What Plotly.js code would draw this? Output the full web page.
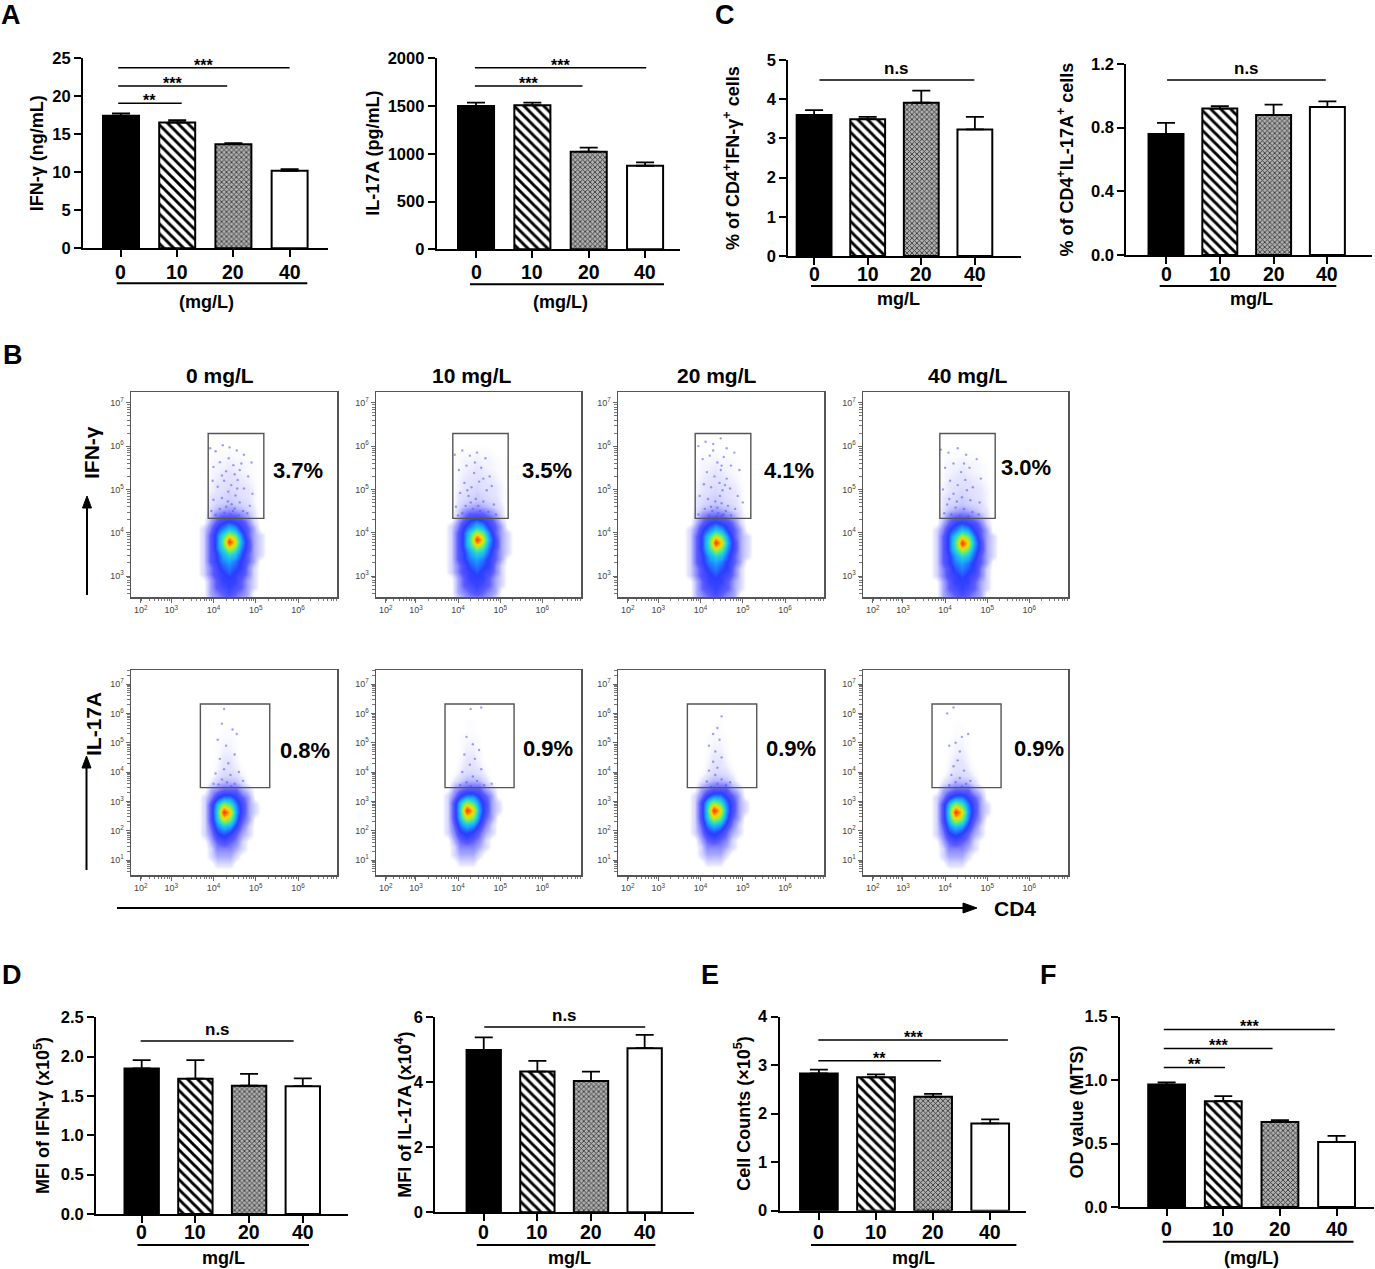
<!DOCTYPE html>
<html><head><meta charset="utf-8">
<script src="https://cdn.plot.ly/plotly-3.0.1.min.js"></script>
<style>html,body{margin:0;padding:0;background:#fff;}#chart{width:1375px;height:1269px;}</style>
</head><body><div id="chart"></div>
<script>
// ================= DATA =================
const doses = ['0','10','20','40'];
const ifngELISA = [17.45, 16.55, 13.7, 10.2];
const ifngELISAsem = [0.3, 0.3, 0.15, 0.2];
const il17ELISA = [1500, 1508, 1022, 875];
const il17ELISAsem = [35, 27, 42, 36];
const pctIFNG = [3.60, 3.49, 3.91, 3.23];
const pctIFNGsem = [0.12, 0.06, 0.31, 0.32];
const pctIL17 = [0.76, 0.92, 0.88, 0.93];
const pctIL17sem = [0.07, 0.015, 0.065, 0.035];
const mfiIFNG = [1.85, 1.72, 1.63, 1.625];
const mfiIFNGsem = [0.105, 0.235, 0.15, 0.10];
const mfiIL17 = [4.99, 4.33, 4.04, 5.05];
const mfiIL17sem = [0.39, 0.33, 0.29, 0.41];
const cellCounts = [2.83, 2.75, 2.35, 1.80];
const cellCountsSem = [0.08, 0.06, 0.06, 0.085];
const odMTS = [0.965, 0.834, 0.67, 0.513];
const odMTSsem = [0.018, 0.04, 0.015, 0.047];

// flow cytometry (log10 display units)
const flowTitles = ['0 mg/L','10 mg/L','20 mg/L','40 mg/L'];
const ifngGatePct = ['3.7%','3.5%','4.1%','3.0%'];
const il17GatePct = ['0.8%','0.9%','0.9%','0.9%'];
const cd4TickLabels = ['10<sup>2</sup>','10<sup>3</sup>','10<sup>4</sup>','10<sup>5</sup>','10<sup>6</sup>'];
const cd4TickVals = [2.28, 3, 4, 5, 6];
const ifngTickVals = [3,4,5,6,7];
const il17TickVals = [1,2,3,4,5,6,7];
const ifngGate = {x:[3.875,5.19], y:[4.33,6.29]};
const il17Gate = {x:[3.69,5.33], y:[3.47,6.32]};
// density peak (CD4, cytokine) per panel
const ifngCenters = [[4.36,3.79],[4.43,3.84],[4.35,3.77],[4.39,3.76]];
const il17Centers = [[4.24,2.64],[4.20,2.70],[4.31,2.70],[4.24,2.64]];
// density read from the IFN-γ row (rows: offset -1.35..+2.25 step .15; cols: offset -0.75..0.9 step .15)
const ifngDensity = [
 [0,0,0.5,1,1.5,1.5,1.5,1,0.5,0,0,0],
 [0,0,1,1.5,2,2.5,2,1.5,1,0,0,0],
 [0,0,1,2,2.5,3,2.5,2,1,0.5,0,0],
 [0,0,1,2,3,3,3,2,1,0.5,0,0],
 [0,0.5,1.5,2.5,3,3.5,3,2.5,1.5,0.5,0,0],
 [0,0.5,1.5,2.5,3.5,4,3.5,3,1.5,0.5,0,0],
 [0,0.5,2,3,4,4.5,4,3,2,1,0,0],
 [0,0.5,2,3,4.5,5.5,5,3.5,2,1,0.5,0],
 [0,0.5,2,3.5,5.5,7.5,6.5,4,2.5,1,0.5,0],
 [0,0.5,2,3.5,6,10,8,4.5,2.5,1,0.5,0],
 [0,0.5,2,3.5,5.5,7.5,6.5,4,2,1,0.5,0],
 [0,0.5,1.5,3,4,5,4.5,3,2,1,0,0],
 [0,0,1,2,3,3.5,3,2.5,1.5,0.5,0,0],
 [0,0,0.6,1.5,2,2,2,1.5,1,0.4,0,0],
 [0,0,0.4,0.8,1,1.2,1,0.8,0.5,0.3,0,0],
 [0,0,0.3,0.5,0.6,0.7,0.6,0.5,0.4,0.2,0,0],
 [0,0,0.3,0.4,0.5,0.6,0.5,0.4,0.3,0.2,0,0],
 [0,0,0.2,0.3,0.4,0.5,0.4,0.35,0.3,0.2,0,0],
 [0,0,0.2,0.3,0.35,0.4,0.4,0.3,0.25,0.15,0,0],
 [0,0,0.15,0.25,0.3,0.35,0.3,0.25,0.2,0.1,0,0],
 [0,0,0.15,0.2,0.25,0.3,0.25,0.2,0.15,0.1,0,0],
 [0,0,0.1,0.2,0.2,0.25,0.2,0.2,0.15,0.1,0,0],
 [0,0,0.1,0.15,0.15,0.2,0.15,0.15,0.1,0,0,0],
 [0,0,0,0.1,0.1,0.1,0.1,0.1,0,0,0,0],
 [0,0,0,0,0,0,0,0,0,0,0,0]
];
// density read from the IL-17A row (rows: offset -2.0..+3.25 step .25; cols: offset -0.6..0.9 step .15)
const il17Density = [
 [0,0,0,0,0,0,0,0,0,0,0],
 [0,0,0,0.5,0.5,0.5,0,0,0,0,0],
 [0,0,0.5,1,1,1,0.5,0,0,0,0],
 [0,0,0.5,1.5,1.5,1.5,1,0.5,0,0,0],
 [0,0,1,2,2.5,2,1.5,0.5,0,0,0],
 [0,0.5,1.5,3,3.5,3,2,1,0.5,0,0],
 [0,0.5,2,4,5,4.5,3,1.5,0.5,0,0],
 [0,0.5,2.5,5,7.5,6.5,4,2,1,0,0],
 [0,0.5,2.5,5.5,10,8,4.5,2.5,1,0.5,0],
 [0,0.5,2.5,5,7,6,4,2.5,1,0.5,0],
 [0,0.5,1.5,3,4,4,3,2,1,0,0],
 [0,0,1,1.5,2,2,2,1,0.5,0,0],
 [0,0,0.3,0.6,0.9,0.9,0.8,0.4,0,0,0],
 [0,0,0.1,0.3,0.5,0.5,0.4,0.2,0,0,0],
 [0,0,0,0.2,0.35,0.35,0.25,0.1,0,0,0],
 [0,0,0,0.15,0.3,0.3,0.2,0,0,0,0],
 [0,0,0,0.1,0.25,0.25,0.15,0,0,0,0],
 [0,0,0,0.1,0.2,0.2,0.1,0,0,0,0],
 [0,0,0,0.1,0.15,0.15,0.1,0,0,0,0],
 [0,0,0,0,0.1,0.1,0,0,0,0,0],
 [0,0,0,0,0.1,0.1,0,0,0,0,0],
 [0,0,0,0,0,0,0,0,0,0,0]
];
// sparse events read from the gates
const ifngEvents = [
 [[3.92,5.95],[4.05,5.88],[4.22,6.02],[4.38,5.97],[4.55,5.9],[4.72,5.8],[4.9,5.62],[4.0,5.52],[4.15,5.63],[4.3,5.42],[4.47,5.56],[4.62,5.45],[4.82,5.3],[4.25,5.2],[4.42,5.1],[4.57,5.22],[4.1,5.06],[4.72,5.02],[4.35,4.95],[4.52,4.86],[4.2,4.8],[4.0,4.76],[4.62,4.7],[4.43,4.66],[4.3,4.6],[4.86,4.62],[4.15,4.55],[4.5,4.56],[4.7,4.5],[3.95,4.5],[4.26,4.46],[4.4,4.42],[4.6,4.4],[4.05,4.41],[4.8,4.45],[4.36,5.72],[4.56,5.02],[4.46,4.5],[4.2,5.32],[4.66,5.6],[3.98,5.2],[4.92,4.9],[4.34,4.72],[4.5,5.35]],
 [[3.92,5.8],[4.1,5.9],[4.28,5.78],[4.45,5.85],[4.65,5.72],[4.02,5.45],[4.2,5.55],[4.38,5.38],[4.55,5.5],[4.75,5.3],[4.15,5.15],[4.32,5.05],[4.5,5.18],[4.68,4.98],[4.05,4.92],[4.25,4.85],[4.42,4.78],[4.6,4.72],[4.85,4.65],[3.95,4.6],[4.18,4.62],[4.35,4.55],[4.52,4.5],[4.72,4.48],[4.1,4.45],[4.28,4.42],[4.45,4.4],[4.62,4.38],[4.0,4.4],[4.9,4.42],[4.4,5.62],[4.6,5.25],[4.22,4.98],[4.48,4.62],[4.8,5.08],[4.3,4.7]],
 [[3.95,6.0],[4.12,6.1],[4.3,6.05],[4.48,6.18],[4.62,5.95],[4.8,5.85],[4.05,5.7],[4.22,5.78],[4.4,5.62],[4.55,5.75],[4.72,5.55],[4.92,5.45],[4.15,5.4],[4.33,5.3],[4.48,5.45],[4.62,5.25],[4.08,5.12],[4.25,5.05],[4.45,5.15],[4.52,4.98],[4.7,5.02],[4.88,4.85],[3.98,4.85],[4.18,4.78],[4.35,4.72],[4.5,4.68],[4.65,4.62],[4.82,4.55],[4.1,4.55],[4.28,4.5],[4.42,4.45],[4.55,4.42],[4.72,4.4],[3.95,4.42],[4.2,4.4],[4.38,4.38],[4.5,5.55],[4.46,4.85],[4.58,5.1],[4.3,5.9],[5.0,4.7],[4.4,4.58],[4.6,4.5],[4.25,4.6],[4.5,4.4]],
 [[3.9,5.92],[4.08,5.85],[4.3,5.95],[4.5,5.8],[4.75,5.7],[4.0,5.5],[4.2,5.6],[4.38,5.4],[4.58,5.5],[4.85,5.25],[4.12,5.2],[4.3,5.1],[4.48,5.22],[4.66,5.05],[3.95,5.0],[4.2,4.9],[4.4,4.82],[4.6,4.75],[4.82,4.7],[4.05,4.65],[4.25,4.58],[4.45,4.55],[4.65,4.48],[3.98,4.45],[4.15,4.42],[4.35,4.4],[4.55,4.38],[4.8,4.42],[4.45,5.6],[4.28,4.72],[4.52,4.98],[4.1,4.78]]
];
const il17Events = [
 [[4.25,6.15],[4.2,5.65],[4.45,5.45],[4.55,5.3],[4.1,5.1],[4.3,4.9],[4.5,4.6],[4.15,4.45],[4.35,4.3],[4.25,4.1],[4.05,3.95],[4.4,3.9],[4.6,4.0],[4.2,3.75],[4.32,3.65],[4.5,3.6],[4.12,3.58],[4.42,3.52],[4.7,3.7],[4.0,3.6]],
 [[4.55,6.2],[4.3,6.15],[4.2,5.2],[4.35,4.95],[4.5,4.75],[4.15,4.6],[4.4,4.45],[4.28,4.25],[4.55,4.1],[4.1,4.0],[4.35,3.85],[4.45,3.7],[4.2,3.65],[4.62,3.55],[4.05,3.55],[4.3,3.52],[4.8,3.6]],
 [[4.5,5.9],[4.4,5.5],[4.3,5.3],[4.45,5.1],[4.2,4.9],[4.35,4.7],[4.5,4.5],[4.3,4.35],[4.4,4.15],[4.2,4.05],[4.35,3.9],[4.5,3.75],[4.15,3.68],[4.4,3.6],[4.6,3.55],[4.25,3.5],[4.7,3.65]],
 [[4.2,6.2],[4.05,6.0],[4.55,5.3],[4.4,5.2],[4.25,5.0],[4.1,4.9],[4.35,4.7],[4.3,4.4],[4.2,4.2],[4.45,4.05],[4.15,3.9],[4.35,3.8],[4.25,3.65],[4.5,3.6],[4.1,3.55],[4.6,3.7],[4.4,3.5]]
];

// ================= LAYOUT HELPERS =================
const W = 1375, H = 1269;
const X = p => p / W, Y = p => 1 - p / H;
const FF = 'Liberation Sans, Arial, Helvetica, sans-serif';
const bold = (size, color) => ({family: FF, size: size, color: color || '#000', weight: 700});
const data = [];
const shapes = [];
const annotations = [];
const layout = {width: W, height: H, margin: {l:0, r:0, t:0, b:0}, showlegend: false, barmode: 'overlay',
  paper_bgcolor: '#fff', plot_bgcolor: 'rgba(0,0,0,0)', shapes: shapes, annotations: annotations};
let axCount = 0;
function addAxes(xPx, yPx, xo, yo) {
  axCount++;
  const n = axCount === 1 ? '' : String(axCount);
  layout['xaxis' + n] = Object.assign({domain: [X(xPx[0]), X(xPx[1])], anchor: 'y' + n, fixedrange: true, showgrid: false, zeroline: false}, xo);
  layout['yaxis' + n] = Object.assign({domain: [Y(yPx[1]), Y(yPx[0])], anchor: 'x' + n, fixedrange: true, showgrid: false, zeroline: false}, yo);
  return {x: 'x' + n, y: 'y' + n};
}
function paperLine(x0, y0, x1, y1, w) {
  shapes.push({type: 'line', xref: 'paper', yref: 'paper', x0: X(x0), y0: Y(y0), x1: X(x1), y1: Y(y1), line: {color: '#000', width: w || 2}});
}
function label(x, y, text, size, opts) {
  annotations.push(Object.assign({xref: 'paper', yref: 'paper', x: X(x), y: Y(y), text: text, showarrow: false,
    xanchor: 'center', yanchor: 'middle', font: bold(size)}, opts || {}));
}

// ================= BAR CHARTS =================
const barStyles = [
  {color: '#000', pattern: {shape: ''}},
  {color: '#fff', pattern: {shape: '\\', size: 7, solidity: 0.42, fgcolor: '#000', bgcolor: '#fff', fillmode: 'replace'}},
  {color: '#9a9a9a', pattern: {shape: 'x', size: 3.5, solidity: 0.45, fgcolor: '#3a3a3a', bgcolor: '#b0b0b0', fillmode: 'replace'}},
  {color: '#fff', pattern: {shape: ''}}
];
function barChart(s) {
  const ax = addAxes(s.xPx, s.yPx, {
    range: s.xr, tickmode: 'array', tickvals: [0,1,2,3], ticks: 'outside', ticklen: 7, tickwidth: 2,
    tickcolor: '#000', showline: true, linewidth: 2, linecolor: '#000', showticklabels: false
  }, {
    range: s.yr, tickmode: 'array', tickvals: s.yt, ticktext: s.ytt || s.yt.map(String), ticks: 'outside', ticklen: 7,
    tickwidth: 2, tickcolor: '#000', showline: true, linewidth: 2, linecolor: '#000', tickfont: bold(16.5)
  });
  s.values.forEach((v, k) => {
    data.push({type: 'bar', x: [k], y: [v], xaxis: ax.x, yaxis: ax.y, width: s.bw,
      marker: {color: barStyles[k].color, line: {color: '#000', width: 2}, pattern: barStyles[k].pattern},
      error_y: {type: 'data', symmetric: false, array: [s.sem[k]], arrayminus: [0], color: '#000', thickness: 1.8, width: 9},
      hoverinfo: 'skip'});
    annotations.push({xref: ax.x, yref: 'paper', x: k, y: Y(s.xl), text: doses[k], showarrow: false,
      xanchor: 'center', yanchor: 'middle', font: bold(19.5)});
  });
  label(s.titleX, (s.yPx[0] + s.yPx[1]) / 2, s.title, 18, {textangle: -90});
  s.sigs.forEach(g => {
    shapes.push({type: 'line', xref: ax.x, yref: ax.y, x0: g.x0, x1: g.x1, y0: g.y, y1: g.y, line: {color: '#000', width: 1.5}});
    annotations.push({xref: ax.x, yref: ax.y, x: (g.x0 + g.x1) / 2, y: g.y, text: g.t, showarrow: false,
      xanchor: 'center', yanchor: 'bottom', yshift: g.t === 'n.s' ? 0 : -8, font: bold(g.t === 'n.s' ? 17 : 16)});
  });
  paperLine(s.br[0], s.br[2], s.br[1], s.br[2], 2);
  label(s.unit[1], s.unit[2], s.unit[0], 18);
}

const barSpecs = [
  {values: ifngELISA, sem: ifngELISAsem, xPx: [83,328], yPx: [58.3,248.3], xr: [-0.676,3.683], yr: [0,25], yt: [0,5,10,15,20,25], bw: 0.64,
   title: 'IFN-γ (ng/mL)', titleX: 37, xl: 271.7,
   sigs: [{x0:-0.05,x1:1.08,y:19.08,t:'**'},{x0:-0.05,x1:1.89,y:21.35,t:'***'},{x0:-0.05,x1:3.0,y:23.76,t:'***'}],
   br: [116.7,307.3,283.3], unit: ['(mg/L)',206.7,301.7]},
  {values: il17ELISA, sem: il17ELISAsem, xPx: [436.7,680], yPx: [58.3,249.3], xr: [-0.698,3.62], yr: [0,2000], yt: [0,500,1000,1500,2000], bw: 0.64,
   title: 'IL-17A (pg/mL)', titleX: 373, xl: 271.7,
   sigs: [{x0:-0.02,x1:1.89,y:1710,t:'***'},{x0:-0.02,x1:3.02,y:1901,t:'***'}],
   br: [470,664,284.3], unit: ['(mg/L)',560,301.7]},
  {values: pctIFNG, sem: pctIFNGsem, xPx: [788.2,1020.7], yPx: [60,256], xr: [-0.483,3.855], yr: [0,5], yt: [0,1,2,3,4,5], bw: 0.65,
   title: '% of CD4<sup>+</sup>IFN-γ<sup>+</sup> cells', titleX: 732, xl: 273.5,
   sigs: [{x0:0.10,x1:2.99,y:4.49,t:'n.s'}],
   br: [811,982,286], unit: ['mg/L',898,298.5]},
  {values: pctIL17, sem: pctIL17sem, xPx: [1126.2,1371.5], yPx: [64,255], xr: [-0.74,3.82], yr: [0,1.2], yt: [0,0.4,0.8,1.2], ytt: ['0.0','0.4','0.8','1.2'], bw: 0.65,
   title: '% of CD4<sup>+</sup>IL-17A<sup>+</sup> cells', titleX: 1066, xl: 273.5,
   sigs: [{x0:0.02,x1:2.97,y:1.1,t:'n.s'}],
   br: [1159.7,1336.3,286], unit: ['mg/L',1251,298.5]},
  {values: mfiIFNG, sem: mfiIFNGsem, xPx: [96,348], yPx: [1017.3,1214], xr: [-0.851,3.842], yr: [0,2.5], yt: [0,0.5,1,1.5,2,2.5], ytt: ['0.0','0.5','1.0','1.5','2.0','2.5'], bw: 0.64,
   title: 'MFI of IFN-γ (x10<sup>5</sup>)', titleX: 42.4, xl: 1231.7,
   sigs: [{x0:-0.02,x1:2.83,y:2.198,t:'n.s'}],
   br: [137.5,309,1245], unit: ['mg/L',223,1258]},
  {values: mfiIL17, sem: mfiIL17sem, xPx: [435.3,694], yPx: [1017.3,1212.3], xr: [-0.903,3.92], yr: [0,6], yt: [0,2,4,6], bw: 0.64,
   title: 'MFI of IL-17A (x10<sup>4</sup>)', titleX: 404, xl: 1231.7,
   sigs: [{x0:0.01,x1:3.01,y:5.7,t:'n.s'}],
   br: [476.8,655.4,1245], unit: ['mg/L',569.2,1258]},
  {values: cellCounts, sem: cellCountsSem, xPx: [779.6,1025.9], yPx: [1016.7,1210.7], xr: [-0.688,3.625], yr: [0,4], yt: [0,1,2,3,4], bw: 0.66,
   title: 'Cell Counts (×10<sup>5</sup>)', titleX: 743, xl: 1231.5,
   sigs: [{x0:-0.01,x1:2.14,y:3.09,t:'**'},{x0:-0.01,x1:3.31,y:3.52,t:'***'}],
   br: [811,1016.4,1245], unit: ['mg/L',913.5,1258]},
  {values: odMTS, sem: odMTSsem, xPx: [1119.7,1373.7], yPx: [1016.7,1207], xr: [-0.828,3.655], yr: [0,1.5], yt: [0,0.5,1,1.5], ytt: ['0.0','0.5','1.0','1.5'], bw: 0.65,
   title: 'OD value (MTS)', titleX: 1076.7, xl: 1228.5,
   sigs: [{x0:-0.05,x1:1.03,y:1.10,t:'**'},{x0:-0.05,x1:1.87,y:1.25,t:'***'},{x0:-0.05,x1:2.97,y:1.40,t:'***'}],
   br: [1162.8,1353.5,1241.7], unit: ['(mg/L)',1251,1258.3]}
];
barSpecs.forEach(barChart);

// ================= FLOW PLOTS =================
const jet = [[0,'rgba(255,255,255,0)'],[0.03,'rgba(170,170,255,0.3)'],[0.1,'rgba(110,110,255,0.6)'],[0.2,'rgba(50,50,255,0.8)'],
  [0.32,'#2a3cff'],[0.45,'#1aa8ff'],[0.57,'#30e0c0'],[0.68,'#90f040'],[0.8,'#ffd800'],[0.9,'#ff7a00'],[1,'#ff2a00']];
function minorTicks(lo, hi, skipBelow) {
  const v = [];
  for (let d = 0; d <= 7; d++) for (let k = 2; k <= 9; k++) {
    const t = d + Math.log10(k);
    if (t > lo && t < hi && t > skipBelow) v.push(t);
  }
  return v;
}
const frameX = [[131,337],[376,581],[618,824],[863,1068]];
const titleX = [220,472,717,968];
const pctPos = [[[298,470],[547,470],[789.5,470],[1026,468]], [[305.3,750.5],[547.9,748.3],[791.4,748.3],[1039.2,748.3]]];
const tickFont = {family: FF, size: 9, color: '#444'};
function flowPlot(i, row) {
  const fy = row === 0 ? [392,597] : [670,875];
  const yr = row === 0 ? [2.515,7.25] : [0.49,7.48];
  const ytv = row === 0 ? ifngTickVals : il17TickVals;
  const ax = addAxes(frameX[i], fy, {
    range: [2.05,6.92], tickmode: 'array', tickvals: cd4TickVals, ticktext: cd4TickLabels, ticks: 'outside', ticklen: 4,
    tickcolor: '#666', showline: true, mirror: true, linecolor: '#555', linewidth: 1.5, tickfont: tickFont,
    minor: {tickmode: 'array', tickvals: minorTicks(2.05, 6.92, 2.3), ticks: 'outside', ticklen: 2.5, tickcolor: '#777'}
  }, {
    range: yr, tickmode: 'array', tickvals: ytv, ticktext: ytv.map(v => '10<sup>' + v + '</sup>'), ticks: 'outside', ticklen: 4,
    tickcolor: '#666', showline: true, mirror: true, linecolor: '#555', linewidth: 1.5, tickfont: tickFont,
    minor: {tickmode: 'array', tickvals: minorTicks(yr[0], yr[1], 0), ticks: 'outside', ticklen: 2.5, tickcolor: '#777'}
  });
  const c = row === 0 ? ifngCenters[i] : il17Centers[i];
  const dens = row === 0 ? ifngDensity : il17Density;
  const t = row === 0 ? {x0:-0.75, dx:0.15, y0:-1.35, dy:0.15} : {x0:-0.6, dx:0.15, y0:-2.0, dy:0.25};
  data.push({type: 'heatmap', z: dens, x0: c[0] + t.x0, dx: t.dx, y0: c[1] + t.y0, dy: t.dy, zmin: 0, zmax: 10,
    zsmooth: 'best', colorscale: jet, showscale: false, xaxis: ax.x, yaxis: ax.y, hoverinfo: 'skip'});
  const ev = row === 0 ? ifngEvents[i] : il17Events[i];
  data.push({type: 'scatter', mode: 'markers', x: ev.map(p => p[0]), y: ev.map(p => p[1]), xaxis: ax.x, yaxis: ax.y,
    marker: {size: 2.4, color: 'rgba(80,80,255,0.55)'}, hoverinfo: 'skip'});
  const g = row === 0 ? ifngGate : il17Gate;
  shapes.push({type: 'rect', xref: ax.x, yref: ax.y, x0: g.x[0], x1: g.x[1], y0: g.y[0], y1: g.y[1], line: {color: '#555', width: 1.4}});
  const pct = row === 0 ? ifngGatePct[i] : il17GatePct[i];
  label(pctPos[row][i][0], pctPos[row][i][1], pct, 22);
  if (row === 0) label(titleX[i], 375, flowTitles[i], 21);
}
for (let i = 0; i < 4; i++) { flowPlot(i, 0); flowPlot(i, 1); }

// axis arrows for flow panels
function arrowUp(x, yTop, yBottom) {
  paperLine(x, yBottom, x, yTop + 9, 2);
  shapes.push({type: 'path', xref: 'paper', yref: 'paper', fillcolor: '#000', line: {color: '#000', width: 1},
    path: 'M ' + X(x) + ' ' + Y(yTop) + ' L ' + X(x - 4.5) + ' ' + Y(yTop + 12) + ' L ' + X(x + 4.5) + ' ' + Y(yTop + 12) + ' Z'});
}
arrowUp(87, 496, 595);
arrowUp(86.5, 756, 870);
paperLine(117, 908, 965, 908, 2);
shapes.push({type: 'path', xref: 'paper', yref: 'paper', fillcolor: '#000', line: {color: '#000', width: 1},
  path: 'M ' + X(977) + ' ' + Y(908) + ' L ' + X(963) + ' ' + Y(903) + ' L ' + X(963) + ' ' + Y(913) + ' Z'});
label(92, 453, 'IFN-γ', 21, {textangle: -90});
label(93, 724, 'IL-17A', 21, {textangle: -90});
label(1015, 908, 'CD4', 21);

// panel letters
[['A',11,15],['B',13,355],['C',725,15],['D',12,975],['E',710,975],['F',1048,975]].forEach(l => label(l[1], l[2], l[0], 27));

Plotly.newPlot('chart', data, layout, {staticPlot: true, displayModeBar: false});
</script></body></html>
